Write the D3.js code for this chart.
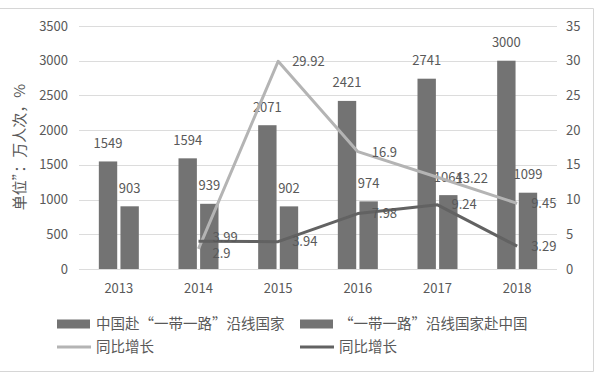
<!DOCTYPE html>
<html>
<head>
<meta charset="utf-8">
<script src="https://cdn.jsdelivr.net/npm/d3@7"></script>
<style>
  body { margin: 0; background: #fff; }
  svg { display: block; font-family: "Noto Sans CJK SC", "Noto Sans", sans-serif; }
</style>
</head>
<body>
<svg id="chart" width="600" height="376"></svg>
<script>
const years = ["2013", "2014", "2015", "2016", "2017", "2018"];
const outbound = [1549, 1594, 2071, 2421, 2741, 3000];
const inbound = [903, 939, 902, 974, 1064, 1099];
const outGrowth = [null, 2.9, 29.92, 16.9, 13.22, 9.45];
const inGrowth = [null, 3.99, 3.94, 7.98, 9.24, 3.29];
const leftTicks = [0, 500, 1000, 1500, 2000, 2500, 3000, 3500];
const rightTicks = [0, 5, 10, 15, 20, 25, 30, 35];

const barColor = "#737373",
    lightLine = "#b4b4b4",
    darkLine = "#626262",
    textColor = "#595959",
    gridColor = "#dcdcdc";

var svg = d3.select("#chart"),
    margin = {top: 26, right: 43, bottom: 107, left: 79},
    width = 600 - margin.left - margin.right,
    height = 376 - margin.top - margin.bottom;

// outer frame (only right/bottom/top edges show in the picture)
svg.append("path")
    .attr("d", "M0,8.5H593.5V371.5H0")
    .attr("fill", "none")
    .attr("stroke", "#d6d6d6");

var x = d3.scaleBand().domain(years).range([margin.left, margin.left + width]);
var sub = d3.scaleBand().domain(["out", "in"]).range([-20, 20]).paddingInner(0.15);
var yL = d3.scaleLinear().domain([0, 3500]).range([margin.top + height, margin.top]);
var yR = d3.scaleLinear().domain([0, 35]).range([margin.top + height, margin.top]);
var cx = d => x(d) + x.bandwidth() / 2;

// gridlines
svg.append("g").selectAll("line").data(leftTicks).join("line")
    .attr("x1", margin.left).attr("x2", margin.left + width)
    .attr("y1", d => Math.round(yL(d)) + 0.5).attr("y2", d => Math.round(yL(d)) + 0.5)
    .attr("stroke", gridColor).attr("stroke-width", 1.2);

// left axis labels
svg.append("g").selectAll("text").data(leftTicks).join("text")
    .attr("x", 68).attr("y", d => yL(d)).attr("dy", "0.35em")
    .attr("text-anchor", "end").attr("font-size", 13).attr("fill", textColor)
    .text(d => d);

// right axis labels
svg.append("g").selectAll("text").data(rightTicks).join("text")
    .attr("x", 566).attr("y", d => yR(d)).attr("dy", "0.35em")
    .attr("text-anchor", "start").attr("font-size", 13).attr("fill", textColor)
    .text(d => d);

// x labels
svg.append("g").selectAll("text").data(years).join("text")
    .attr("x", d => cx(d)).attr("y", 288).attr("dy", "0.35em")
    .attr("text-anchor", "middle").attr("font-size", 13).attr("fill", textColor)
    .text(d => d);

// y title
svg.append("text")
    .attr("transform", "translate(20,147) rotate(-90)")
    .attr("text-anchor", "middle").attr("dy", "0.35em")
    .attr("font-size", 15).attr("fill", textColor)
    .text("单位”：万人次，%");

// bars
const barData = [];
years.forEach((yr, i) => {
  barData.push({year: yr, key: "out", value: outbound[i]});
  barData.push({year: yr, key: "in", value: inbound[i]});
});

svg.append("g").selectAll("rect").data(barData).join("rect")
    .attr("x", d => cx(d.year) + sub(d.key))
    .attr("width", sub.bandwidth())
    .attr("y", d => yL(d.value))
    .attr("height", d => yL(0) - yL(d.value))
    .attr("fill", barColor);

svg.append("g").selectAll("text").data(barData).join("text")
    .attr("x", d => cx(d.year) + sub(d.key) + sub.bandwidth() / 2)
    .attr("y", d => yL(d.value) - 18).attr("dy", "0.35em")
    .attr("text-anchor", "middle").attr("font-size", 13).attr("fill", textColor)
    .text(d => d.value);

// growth lines
var line = d3.line()
    .defined(d => d.v != null)
    .x(d => cx(d.year))
    .y(d => yR(d.v));

function drawGrowth(values, color) {
  var pts = years.map((yr, i) => ({year: yr, v: values[i]}));
  svg.append("path").datum(pts)
      .attr("d", line)
      .attr("fill", "none").attr("stroke", color)
      .attr("stroke-width", 3).attr("stroke-linejoin", "round");
  return pts.filter(d => d.v != null);
}

var lp = drawGrowth(outGrowth, lightLine);
var dp = drawGrowth(inGrowth, darkLine);

function growthLabels(pts, dxFix, dyFix) {
  svg.append("g").selectAll("text").data(pts).join("text")
      .attr("x", (d, i) => cx(d.year) + 14 + (dxFix[i] || 0))
      .attr("y", (d, i) => yR(d.v) + (dyFix[i] || 0)).attr("dy", "0.35em")
      .attr("font-size", 13).attr("fill", textColor)
      .text(d => d.v);
}
growthLabels(lp, [0, 0, 0, 4, 0], [5, 0, 1, 1, 0]);
growthLabels(dp, [0, 0, 0, 0, 0], [-4, 0, 0, 0, 0]);

// legend
var legend = svg.append("g").attr("font-size", 14.5).attr("fill", textColor);
var items = [
  {x: 57, y: 324, type: "bar", color: barColor, label: "中国赴“一带一路”沿线国家"},
  {x: 300, y: 324, type: "bar", color: barColor, label: "“一带一路”沿线国家赴中国"},
  {x: 57, y: 347, type: "line", color: lightLine, label: "同比增长"},
  {x: 300, y: 347, type: "line", color: darkLine, label: "同比增长"}
];
items.forEach(it => {
  if (it.type === "bar") {
    legend.append("rect").attr("x", it.x).attr("y", it.y - 4.5)
        .attr("width", 33).attr("height", 9).attr("fill", it.color);
  } else {
    legend.append("line").attr("x1", it.x).attr("x2", it.x + 34)
        .attr("y1", it.y).attr("y2", it.y)
        .attr("stroke", it.color).attr("stroke-width", 3);
  }
  legend.append("text").attr("x", it.x + 39).attr("y", it.y).attr("dy", "0.35em")
      .text(it.label);
});
</script>
</body>
</html>
